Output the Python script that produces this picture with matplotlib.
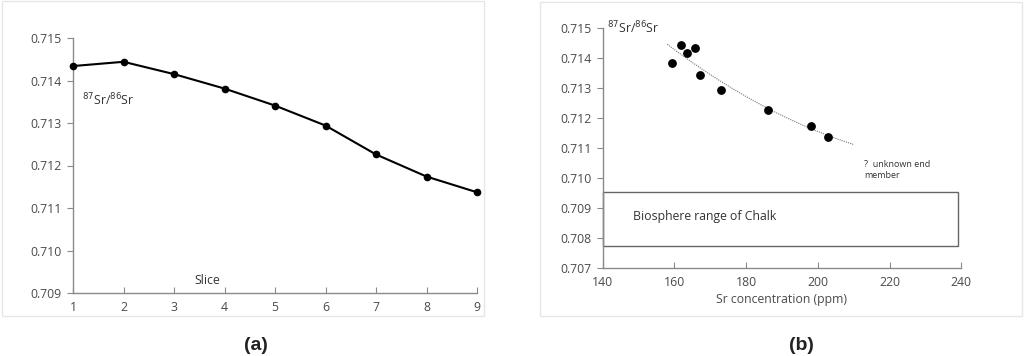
import matplotlib
matplotlib.use('Agg')
import matplotlib.pyplot as plt
from matplotlib.patches import Rectangle
import numpy as np

# 数据
slices = [1, 2, 3, 4, 5, 6, 7, 8, 9]
sr_ratio = [0.71434, 0.71444, 0.71415, 0.71381, 0.71341, 0.71294, 0.71226, 0.71174, 0.71137]
sr_ppm = [165.7, 161.7, 163.4, 159.4, 167.0, 172.9, 186.2, 198.0, 202.9]
y_ticks = [0.709, 0.710, 0.711, 0.712, 0.713, 0.714, 0.715]
y_ticks_b = [0.707, 0.708, 0.709, 0.710, 0.711, 0.712, 0.713, 0.714, 0.715]
x_ticks_b = [140, 160, 180, 200, 220, 240]
chalk_range = [0.70772, 0.70952]

plt.rcParams['font.family'] = ['Open Sans', 'DejaVu Sans']
tick_col = '#4a4a4a'
axis_col = '#8a8a8a'

fig = plt.figure(figsize=(10.24, 3.56), dpi=100)
W, H = 1024, 356

def px_axes(l, t, r, b):
    return fig.add_axes([l / W, 1 - b / H, (r - l) / W, (b - t) / H])

# 面板边框
for (l, t, r, b) in [(2, 1, 484, 316), (540, 2, 1022, 316)]:
    fig.patches.append(Rectangle((l / W, 1 - b / H), (r - l) / W, (b - t) / H,
                                 transform=fig.transFigure, fill=False,
                                 edgecolor='#e6e6e6', linewidth=1.0))

def style(ax):
    for s in ['top', 'right']:
        ax.spines[s].set_visible(False)
    for s in ['left', 'bottom']:
        ax.spines[s].set_color(axis_col)
        ax.spines[s].set_linewidth(1.0)
    ax.tick_params(axis='y', direction='out', length=4, color=axis_col,
                   labelsize=8.8, labelcolor=tick_col, pad=4)
    ax.tick_params(axis='x', direction='in', length=4, color=axis_col,
                   labelsize=8.8, labelcolor=tick_col, pad=6)
    ax.patch.set_alpha(0)

# (a)
ax1 = px_axes(73, 38, 477, 293)
ax1.plot(slices, sr_ratio, color='black', linewidth=1.5, marker='o', markersize=4.5,
         clip_on=False, zorder=3)
ax1.set_xlim(1, 9)
ax1.set_ylim(0.709, 0.715)
ax1.set_xticks(slices)
ax1.set_yticks(y_ticks)
ax1.set_yticklabels([f'{v:.3f}' for v in y_ticks])
style(ax1)
ax1.text(1.17, 0.71355, r'$^{87}$Sr/$^{86}$Sr', fontsize=8.8, color='#333333', va='center')
ax1.text(3.66, 0.7093, 'Slice', fontsize=8.8, color='#333333', ha='center', va='center')

# (b)
ax2 = px_axes(602.7, 27.7, 961.3, 268)
ax2.scatter(sr_ppm, sr_ratio, color='black', s=28, zorder=3)
coef = np.polyfit(sr_ppm, sr_ratio, 2)
xt = np.linspace(158, 210, 100)
ax2.plot(xt, np.polyval(coef, xt), color='#777777', linestyle=(0, (1, 1)), linewidth=0.8)
ax2.add_patch(Rectangle((140, chalk_range[0]), 99, chalk_range[1] - chalk_range[0],
                        fill=False, edgecolor='#666666', linewidth=1.0, clip_on=False))
ax2.set_xlim(140, 240)
ax2.set_ylim(0.707, 0.715)
ax2.set_xticks(x_ticks_b)
ax2.set_yticks(y_ticks_b)
ax2.set_yticklabels([f'{v:.3f}' for v in y_ticks_b])
style(ax2)
ax2.set_xlabel('Sr concentration (ppm)', fontsize=8.8, color=tick_col, labelpad=3)
ax2.text(141.2, 0.71500, r'$^{87}$Sr/$^{86}$Sr', fontsize=8.8, color='#333333', va='center')
ax2.text(148.5, 0.70873, 'Biosphere range of Chalk', fontsize=8.8, color='#333333', va='center')
ax2.text(213, 0.7106, '?  unknown end\nmember', fontsize=6.5, color='#333333', va='top',
         linespacing=1.3)

# 面板标签
fig.text(256 / W, 1 - 345 / H, '(a)', fontsize=14, fontweight='bold',
         family=['Liberation Sans'], ha='center', va='center', color='#222222')
fig.text(801 / W, 1 - 345 / H, '(b)', fontsize=14, fontweight='bold',
         family=['Liberation Sans'], ha='center', va='center', color='#222222')

fig.savefig('out.png', dpi=100)
